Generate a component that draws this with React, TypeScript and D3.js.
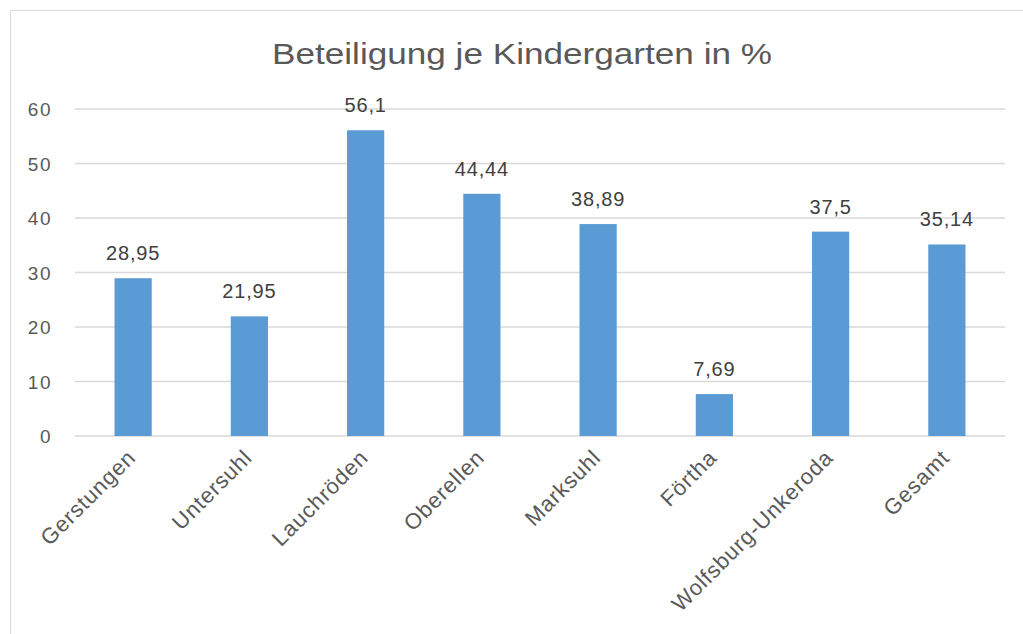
import React from "react";
import * as d3 from "d3";

const categories = [
  "Gerstungen",
  "Untersuhl",
  "Lauchröden",
  "Oberellen",
  "Marksuhl",
  "Förtha",
  "Wolfsburg-Unkeroda",
  "Gesamt",
];
const values = [28.95, 21.95, 56.1, 44.44, 38.89, 7.69, 37.5, 35.14];
const yTicks = [0, 10, 20, 30, 40, 50, 60];

const width = 1023;
const height = 634;
const left = 75;
const right = 1005;
const top = 109;
const bottom = 436;

const fmt = (v: number) => String(v).replace(".", ",");

const App = () => {
  const x = d3.scaleBand().domain(categories).range([left, right]).paddingInner(0.68).paddingOuter(0.34);
  const y = d3.scaleLinear().domain([0, 60]).range([bottom, top]);

  return (
    <svg
      width={width}
      height={height}
      style={{ position: "absolute", left: 0, top: 0, fontFamily: "'Liberation Sans', Arial, sans-serif" }}
    >
      <rect x={0} y={0} width={width} height={height} fill="#fff" />
      <rect x={10.5} y={10.5} width={1030} height={700} fill="#fff" stroke="#d9d9d9" />
      <text
        x={522}
        y={64}
        textAnchor="middle"
        fontSize={30}
        fill="#595959"
        textLength={500}
        lengthAdjust="spacingAndGlyphs"
      >
        Beteiligung je Kindergarten in %
      </text>
      {yTicks.map((t) => (
        <g key={t}>
          <line x1={left} x2={right} y1={y(t)} y2={y(t)} stroke="#d9d9d9" strokeWidth={1.5} />
          <text x={52} y={y(t) + 7} textAnchor="end" fontSize={19} fill="#595959" letterSpacing={1.5}>
            {t}
          </text>
        </g>
      ))}
      {categories.map((c, i) => {
        const bx = x(c) as number;
        const cx = bx + x.bandwidth() / 2;
        return (
          <g key={c}>
            <rect x={bx} y={y(values[i])} width={x.bandwidth()} height={y(0) - y(values[i])} fill="#5b9bd5" />
            <text x={cx} y={y(values[i]) - 18} textAnchor="middle" fontSize={20} fill="#404040" letterSpacing={0.8}>
              {fmt(values[i])}
            </text>
            <text
              transform={`translate(${cx + 4},${459}) rotate(-45)`}
              textAnchor="end"
              fontSize={22}
              fill="#595959"
              letterSpacing={0.9}
            >
              {c}
            </text>
          </g>
        );
      })}
    </svg>
  );
};

export default App;
